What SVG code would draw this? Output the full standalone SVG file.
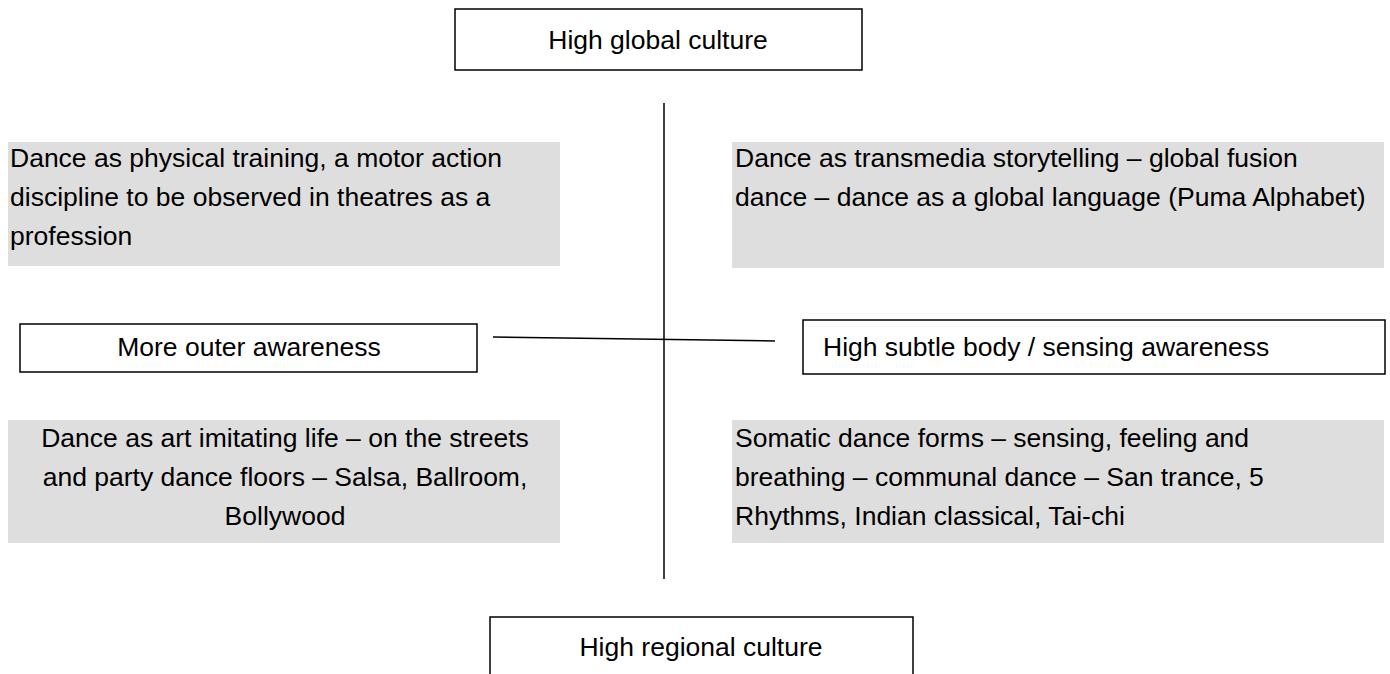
<svg xmlns="http://www.w3.org/2000/svg" width="1390" height="674" viewBox="0 0 1390 674">
<style>
text{font-family:"Liberation Sans",Arial,sans-serif;font-size:26.5px;fill:#000}
.box{fill:#fff;stroke:#000;stroke-width:1.5}
.gray{fill:#dedede;stroke:none}
.c{text-anchor:middle}
.ln{stroke:#000;stroke-width:1.5;fill:none}
</style>
<rect width="1390" height="674" fill="#fff"/>
<g id="connectors">
<line class="ln" x1="664" y1="103" x2="664" y2="579"/>
<line class="ln" x1="493" y1="337" x2="775" y2="341"/>
</g>
<g id="n-global">
<rect class="box" x="455" y="9" width="407" height="61"/>
<text class="c" x="658" y="49">High global culture</text>
</g>
<g id="n-topleft">
<rect class="gray" x="8" y="142" width="552" height="124"/>
<text x="10" y="167">Dance as physical training, a motor action</text>
<text x="10" y="206">discipline to be observed in theatres as a</text>
<text x="10" y="245">profession</text>
</g>
<g id="n-topright">
<rect class="gray" x="732" y="142" width="652" height="126"/>
<text x="735" y="167">Dance as transmedia storytelling – global fusion</text>
<text x="735" y="206">dance – dance as a global language (Puma Alphabet)</text>
</g>
<g id="n-outer">
<rect class="box" x="20" y="324" width="457" height="48"/>
<text class="c" x="249" y="356">More outer awareness</text>
</g>
<g id="n-subtle">
<rect class="box" x="803" y="320" width="582" height="54"/>
<text x="823" y="356">High subtle body / sensing awareness</text>
</g>
<g id="n-bottomleft">
<rect class="gray" x="8" y="420" width="552" height="123"/>
<text class="c" x="285" y="447">Dance as art imitating life – on the streets</text>
<text class="c" x="285" y="486">and party dance floors  – Salsa, Ballroom,</text>
<text class="c" x="285" y="525">Bollywood</text>
</g>
<g id="n-bottomright">
<rect class="gray" x="732" y="420" width="652" height="123"/>
<text x="735" y="447">Somatic dance forms – sensing, feeling and</text>
<text x="735" y="486">breathing – communal dance – San trance, 5</text>
<text x="735" y="525">Rhythms, Indian classical, Tai-chi</text>
</g>
<g id="n-regional">
<path class="box" d="M490,676 V617 H913 V676"/>
<text class="c" x="701" y="656">High regional culture</text>
</g>
</svg>
